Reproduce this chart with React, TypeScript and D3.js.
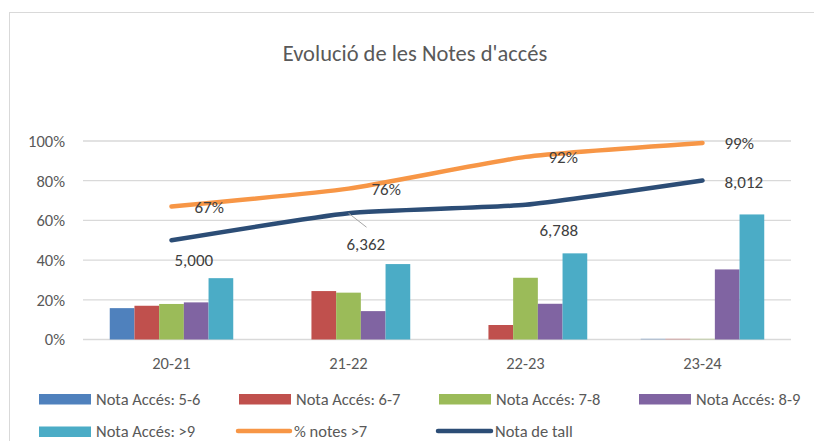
import React from "react";
import * as d3 from "d3";

const categories = ["20-21", "21-22", "22-23", "23-24"];
const barSeries = ["Nota Accés: 5-6", "Nota Accés: 6-7", "Nota Accés: 7-8", "Nota Accés: 8-9", "Nota Accés: >9"];
const nota56 = [0.158, 0, 0, 0.004];
const nota67 = [0.17, 0.244, 0.073, 0.004];
const nota78 = [0.179, 0.236, 0.311, 0.004];
const nota89 = [0.187, 0.143, 0.18, 0.353];
const nota9 = [0.309, 0.38, 0.434, 0.63];
const pctNotes7 = [0.67, 0.76, 0.92, 0.99];
const notaTall = [5.0, 6.362, 6.788, 8.012];
const yTicks = [0, 0.2, 0.4, 0.6, 0.8, 1.0];

const barColors = ["#4F81BD", "#C0504D", "#9BBB59", "#8064A2", "#4BACC6"];
const orange = "#F79646";
const navy = "#2C4D76";
const FONT = "Carlito, Calibri, Lato, 'Open Sans', sans-serif";

// label offsets (layout only)
const pctLabelOff = [[23, 0], [23, 0], [23, 0], [22, 0]];
const tallLabelOff = [[3, 20], [-2, 31], [14, 25], [22, 1]];

export default function App() {
  const W = 814, H = 441;
  const x = d3.scaleBand<string>().domain(categories).range([83, 791]);
  const y = d3.scaleLinear().domain([0, 1]).range([339.5, 141]);
  const groupW = 123.5;
  const xs = d3.scaleBand<string>().domain(barSeries).range([0, groupW]);
  const barData = [nota56, nota67, nota78, nota89, nota9];
  const cx = (c: string) => (x(c) as number) + x.bandwidth() / 2;

  const line = d3
    .line<number>()
    .x((_, i) => cx(categories[i]))
    .y((d) => y(d))
    .curve(d3.curveCardinal.tension(0.5));

  const tallScaled = notaTall.map((v) => v / 10);
  const fmtPct = d3.format(".0%");
  const fmtTall = (v: number) => d3.format(".3f")(v).replace(".", ",");

  const legendRow1 = [0, 1, 2, 3];
  const axisFs = 16.5;
  const labelFs = 17;
  const legendFs = 16.5;
  return (
    <svg width={W} height={H} style={{ position: "absolute", left: 0, top: 0, background: "#fff" }} fontFamily={FONT}>
      <rect x={9.5} y={12.5} width={900} height={600} fill="#fff" stroke="#D9D9D9" strokeWidth={1} />
      <text x={415} y={61} textAnchor="middle" fontSize={22.5} fill="#595959">
        Evolució de les Notes d'accés
      </text>
      {yTicks.map((t) => (
        <g key={t}>
          <line x1={83} x2={791} y1={y(t)} y2={y(t)} stroke="#D9D9D9" strokeWidth={1.3} />
          <text x={65} y={y(t)} dy="0.36em" textAnchor="end" fontSize={axisFs} fill="#595959">
            {fmtPct(t)}
          </text>
        </g>
      ))}
      {categories.map((c) => (
        <text key={c} x={cx(c)} y={369} textAnchor="middle" fontSize={axisFs} fill="#595959">
          {c}
        </text>
      ))}
      {barData.map((series, si) =>
        series.map((v, ci) => {
          const c = categories[ci];
          const bx = (x(c) as number) + (x.bandwidth() - groupW) / 2 + (xs(barSeries[si]) as number);
          return (
            <rect
              key={si + "-" + ci}
              x={bx}
              y={y(v)}
              width={xs.bandwidth()}
              height={y(0) - y(v)}
              fill={barColors[si]}
              opacity={v < 0.01 ? 0.5 : 1}
            />
          );
        })
      )}
      <path d={line(pctNotes7) || ""} fill="none" stroke={orange} strokeWidth={4.5} strokeLinecap="round" />
      <path d={line(tallScaled) || ""} fill="none" stroke={navy} strokeWidth={4.5} strokeLinecap="round" />
      {/* leader line for 6,362 */}
      <line
        x1={cx(categories[1])}
        y1={y(tallScaled[1])}
        x2={cx(categories[1]) + 18}
        y2={y(tallScaled[1]) + 14}
        stroke="#A6A6A6"
        strokeWidth={1}
      />
      {pctNotes7.map((v, i) => (
        <text
          key={"p" + i}
          x={cx(categories[i]) + pctLabelOff[i][0]}
          y={y(v) + pctLabelOff[i][1]}
          dy="0.36em"
          fontSize={labelFs}
          fill="#404040"
        >
          {fmtPct(v)}
        </text>
      ))}
      {tallScaled.map((v, i) => (
        <text
          key={"t" + i}
          x={cx(categories[i]) + tallLabelOff[i][0]}
          y={y(v) + tallLabelOff[i][1]}
          dy="0.36em"
          fontSize={labelFs}
          fill="#404040"
        >
          {fmtTall(notaTall[i])}
        </text>
      ))}
      {legendRow1.map((si) => (
        <g key={"l" + si} transform={`translate(${39 + si * 200},0)`}>
          <rect x={0} y={394} width={52} height={10.5} fill={barColors[si]} />
          <text x={57} y={405} fontSize={legendFs} fill="#595959">
            {barSeries[si]}
          </text>
        </g>
      ))}
      <g transform="translate(39,0)">
        <rect x={0} y={426.5} width={52} height={10.5} fill={barColors[4]} />
        <text x={57} y={437} fontSize={legendFs} fill="#595959">
          {barSeries[4]}
        </text>
      </g>
      <g>
        <line x1={238} x2={290} y1={431} y2={431} stroke={orange} strokeWidth={4.5} strokeLinecap="round" />
        <text x={294} y={437} fontSize={legendFs} fill="#595959">
          % notes &gt;7
        </text>
      </g>
      <g>
        <line x1={438} x2={491} y1={431} y2={431} stroke={navy} strokeWidth={4.5} strokeLinecap="round" />
        <text x={495} y={437} fontSize={legendFs} fill="#595959">
          Nota de tall
        </text>
      </g>
    </svg>
  );
}
